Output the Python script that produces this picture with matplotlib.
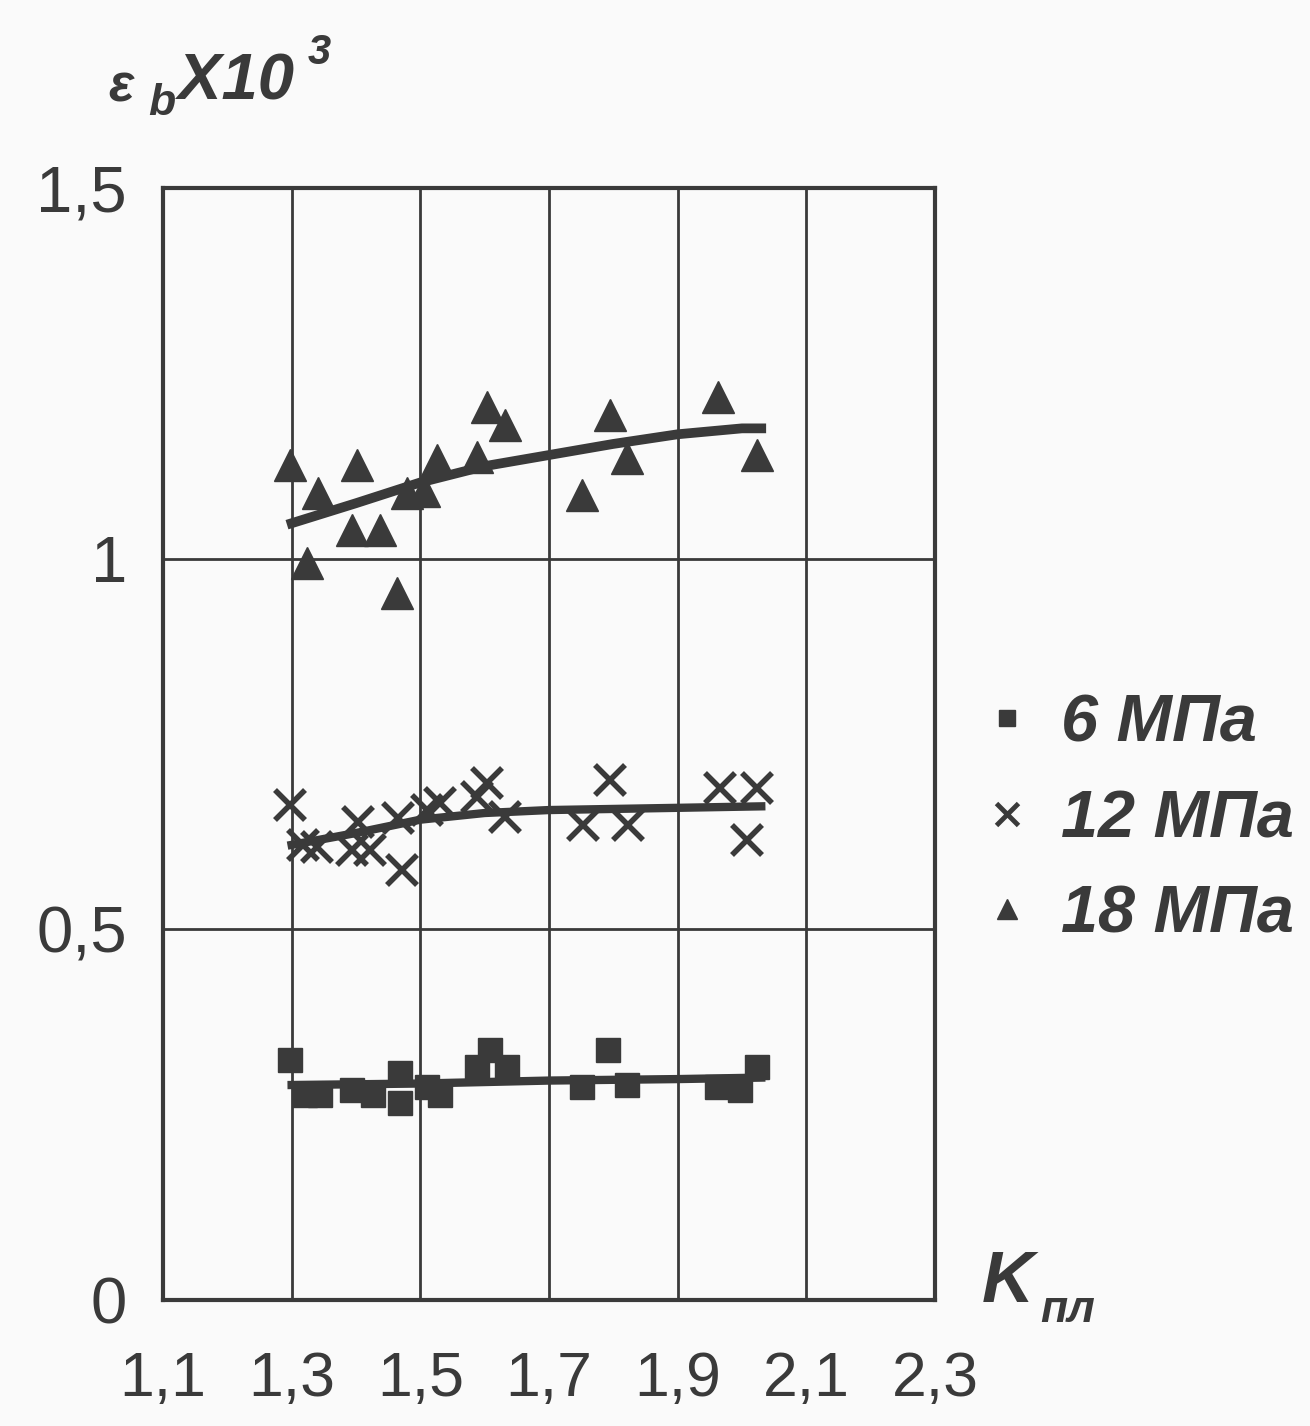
import matplotlib.pyplot as plt

plt.rcParams['font.family'] = ['Liberation Sans', 'DejaVu Sans']

# 6 MPa (squares)
k_6 = [1.297, 1.321, 1.344, 1.394, 1.426, 1.468, 1.468, 1.510, 1.531, 1.588,
       1.608, 1.635, 1.751, 1.792, 1.821, 1.961, 1.997, 2.023]
e_6 = [0.324, 0.277, 0.277, 0.283, 0.277, 0.306, 0.266, 0.287, 0.277, 0.314,
       0.337, 0.314, 0.287, 0.337, 0.290, 0.287, 0.283, 0.314]
fit_k_6 = [1.30, 1.50, 1.70, 1.90, 2.03]
fit_e_6 = [0.290, 0.292, 0.296, 0.298, 0.300]

# 12 MPa (crosses)
k_12 = [1.297, 1.318, 1.339, 1.403, 1.394, 1.422, 1.465, 1.471, 1.510, 1.531,
        1.604, 1.588, 1.632, 1.753, 1.795, 1.823, 1.966, 2.023, 2.008]
e_12 = [0.668, 0.614, 0.611, 0.645, 0.607, 0.607, 0.650, 0.580, 0.661, 0.670,
        0.697, 0.679, 0.652, 0.641, 0.701, 0.641, 0.691, 0.691, 0.621]
fit_k_12 = [1.30, 1.40, 1.50, 1.60, 1.70, 1.90, 2.03]
fit_e_12 = [0.614, 0.630, 0.648, 0.657, 0.661, 0.664, 0.666]

# 18 MPa (triangles)
k_18 = [1.297, 1.341, 1.324, 1.402, 1.394, 1.437, 1.464, 1.480, 1.505, 1.526,
        1.588, 1.604, 1.632, 1.751, 1.795, 1.821, 1.963, 2.023]
e_18 = [1.126, 1.089, 0.994, 1.126, 1.039, 1.039, 0.954, 1.089, 1.092, 1.133,
        1.137, 1.205, 1.180, 1.086, 1.194, 1.136, 1.218, 1.140]
fit_k_18 = [1.30, 1.40, 1.50, 1.60, 1.70, 1.80, 1.90, 2.00, 2.03]
fit_e_18 = [1.048, 1.075, 1.103, 1.125, 1.140, 1.155, 1.168, 1.176, 1.176]

xticks = [1.1, 1.3, 1.5, 1.7, 1.9, 2.1, 2.3]
xtick_labels = ['1,1', '1,3', '1,5', '1,7', '1,9', '2,1', '2,3']
yticks = [0, 0.5, 1.0, 1.5]
ytick_labels = ['0', '0,5', '1', '1,5']

ink = '#3a3a3a'
bg = '#fafafa'

fig = plt.figure(figsize=(13.1, 14.26), dpi=100, facecolor=bg)
ax = fig.add_axes([0.1244, 0.0884, 0.5893, 0.7796], facecolor=bg)

ax.set_xlim(1.1, 2.3)
ax.set_ylim(0, 1.5)
ax.set_xticks(xticks)
ax.set_xticklabels(xtick_labels)
ax.set_yticks(yticks)
ax.set_yticklabels(ytick_labels)
ax.tick_params(length=0, colors=ink)
ax.tick_params(axis='x', pad=36, labelsize=45)
ax.tick_params(axis='y', pad=26, labelsize=47)
for s in ax.spines.values():
    s.set_color(ink)
    s.set_linewidth(3)
ax.grid(True, color=ink, linewidth=2)

ax.plot(fit_k_6, fit_e_6, color=ink, lw=6, zorder=3)
ax.plot(fit_k_12, fit_e_12, color=ink, lw=6, zorder=3)
ax.plot(fit_k_18, fit_e_18, color=ink, lw=7, zorder=3)

ax.plot(k_6, e_6, 's', color=ink, ms=17, ls='none', zorder=4, label='6 МПа')
ax.plot(k_12, e_12, 'x', color=ink, ms=21, mew=4, ls='none', zorder=4, label='12 МПа')
ax.plot(k_18, e_18, '^', color=ink, ms=23, ls='none', zorder=4, label='18 МПа')

h, l = ax.get_legend_handles_labels()
h[0] = plt.Line2D([], [], marker='s', color=ink, ms=11, ls='none')
h[1] = plt.Line2D([], [], marker='x', color=ink, ms=16, mew=3.5, ls='none')
h[2] = plt.Line2D([], [], marker='^', color=ink, ms=15, ls='none')
fig.legend(h, l, loc='center left', bbox_to_anchor=(0.708, 1 - 820 / 1426),
           frameon=False, handlelength=0.6, handletextpad=0.5, labelspacing=0.5,
           prop={'weight': 'bold', 'style': 'italic', 'size': 48}, labelcolor=ink)

# axis labels
tkw = dict(color=ink, fontweight='bold', fontstyle='italic')
fig.text(108 / 1310, 1 - 102 / 1426, 'ε', fontsize=38, **tkw)
fig.text(148 / 1310, 1 - 115 / 1426, 'b', fontsize=32, **tkw)
fig.text(178 / 1310, 1 - 100 / 1426, 'X10', fontsize=47, **tkw)
fig.text(308 / 1310, 1 - 64 / 1426, '3', fontsize=30, **tkw)
fig.text(982 / 1310, 1 - 1302 / 1426, 'K', fontsize=52, **tkw)
fig.text(1040 / 1310, 1 - 1322 / 1426, 'пл', fontsize=32, **tkw)

fig.savefig('out.png', dpi=100, facecolor=bg)
